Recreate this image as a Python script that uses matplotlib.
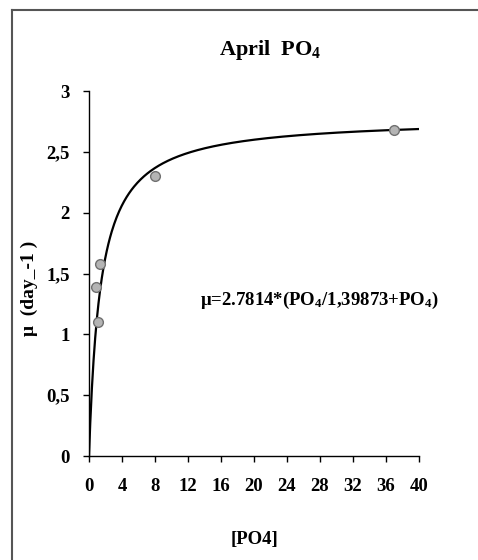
import matplotlib.pyplot as plt
import numpy as np

# observed growth rate vs PO4
po4 = [0.8, 1.1, 1.3, 8.0, 37.0]
mu = [1.39, 1.10, 1.58, 2.30, 2.68]

# fitted Monod parameters
mu_max = 2.7814
ks = 1.39873

xticks = [0, 4, 8, 12, 16, 20, 24, 28, 32, 36, 40]
yticks = [0, 0.5, 1, 1.5, 2, 2.5, 3]
ytick_labels = ['0', '0,5', '1', '1,5', '2', '2,5', '3']

plt.rcParams['font.family'] = ['Liberation Serif', 'DejaVu Serif']
plt.rcParams['font.weight'] = 'bold'
plt.rcParams['mathtext.fontset'] = 'custom'
plt.rcParams['mathtext.rm'] = 'Liberation Serif:bold'
plt.rcParams['mathtext.bf'] = 'Liberation Serif:bold'
plt.rcParams['mathtext.it'] = 'Liberation Serif:bold'

fig = plt.figure(figsize=(4.78, 5.6), dpi=100)
ax = fig.add_axes([0.1862, 0.1857, 0.6904, 0.6518])

xf = np.linspace(0.05, 40, 400)
xf = np.concatenate([[0], xf])
ax.plot(xf, mu_max * xf / (ks + xf), color='black', lw=1.6)
ax.plot(po4, mu, 'o', ms=7, mfc='#b4b4b4', mec='#707070', mew=1.0, zorder=3)

ax.set_xlim(0, 40)
ax.set_ylim(0, 3)
ax.set_xticks(xticks)
ax.set_yticks(yticks)
ax.set_yticklabels(ytick_labels)
ax.spines['top'].set_visible(False)
ax.spines['right'].set_visible(False)
for s in ['left', 'bottom']:
    ax.spines[s].set_linewidth(1.0)
ax.tick_params(direction='out', length=4, width=1, labelsize=13.5, pad=10)
ax.tick_params(axis='x', pad=12)

ax.set_title('April  PO$_{4}$', fontsize=16, fontweight='bold', pad=26, x=0.548)
ax.set_xlabel('[PO4]', fontsize=13.5, fontweight='bold', labelpad=26)
ax.set_ylabel('μ  (day_-1 )', fontsize=14, fontweight='bold')
ax.yaxis.set_label_coords(-0.155, 0.46)

ax.text(0.70, 0.425, 'μ=2.7814*(PO$_{4}$/1,39873+PO$_{4}$)',
        transform=ax.transAxes, ha='center', va='center', fontsize=13.5, fontweight='bold')

# outer frame (top and left only visible)
fig.add_artist(plt.Line2D([12 / 478, 12 / 478], [0, 1 - 10 / 560], color='#555555', lw=1.5,
                          transform=fig.transFigure))
fig.add_artist(plt.Line2D([12 / 478, 1], [1 - 10 / 560, 1 - 10 / 560], color='#555555', lw=1.5,
                          transform=fig.transFigure))

fig.savefig('out.png', dpi=100)
